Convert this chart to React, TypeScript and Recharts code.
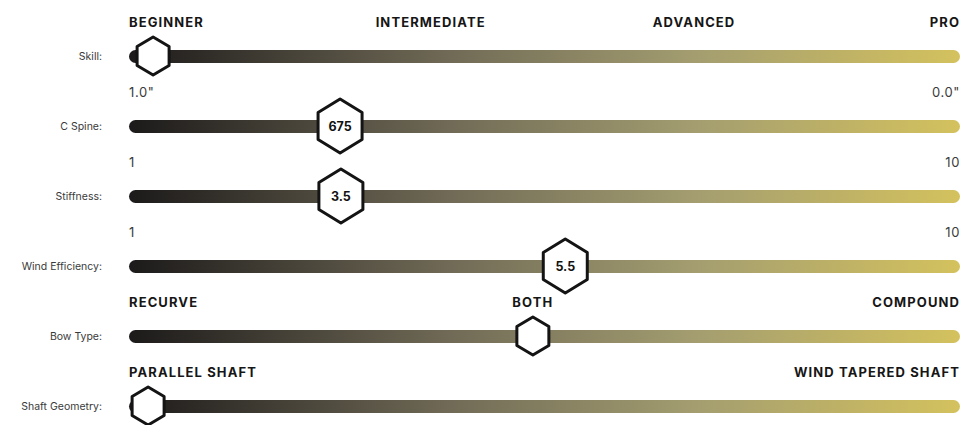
import { Bar, ComposedChart, ReferenceDot, XAxis, YAxis } from "recharts";

const rows = ["Skill:", "C Spine:", "Stiffness:", "Wind Efficiency:", "Bow Type:", "Shaft Geometry:"];
// where the marker sits on each track, in percent of the track length
const markerPos = [2.9, 25.4, 25.5, 52.5, 48.6, 2.3];
const markerText = ["", "675", "3.5", "5.5", "", ""];
const scaleText = [
  ["BEGINNER", "INTERMEDIATE", "ADVANCED", "PRO"],
  ["1.0\"", "0.0\""],
  ["1", "10"],
  ["1", "10"],
  ["RECURVE", "BOTH", "COMPOUND"],
  ["PARALLEL SHAFT", "WIND TAPERED SHAFT"],
];
const scaleAt = [
  [0, 36.3, 68, 100],
  [0, 100],
  [0, 100],
  [0, 100],
  [0, 48.6, 100],
  [0, 100],
];

const data = rows.map((name) => ({ name, track: 100 }));

function Hexagon(props: any) {
  const { cx, cy, label } = props;
  const big = label !== "";
  const w = big ? 22 : 16;
  const h = big ? 27 : 19;
  const d = `M${cx},${cy - h} L${cx + w},${cy - h / 2} L${cx + w},${cy + h / 2} L${cx},${cy + h} L${cx - w},${cy + h / 2} L${cx - w},${cy - h / 2} Z`;
  return (
    <g>
      <path d={d} fill="#fff" stroke="#141414" strokeWidth={3} strokeLinejoin="round" />
      {big && (
        <text x={cx} y={cy} dy={4.5} textAnchor="middle" fontSize={12.5} fontWeight={700} fill="#111">
          {label}
        </text>
      )}
    </g>
  );
}

function ScaleLabel(props: any) {
  const { cx, cy, text, at } = props;
  const bold = /[A-Z]/.test(text);
  const anchor = at === 0 ? "start" : at === 100 ? "end" : "middle";
  return (
    <text
      x={cx}
      y={cy}
      dy={-29}
      textAnchor={anchor}
      fontSize={13}
      letterSpacing={bold ? 1.1 : 0.6}
      fontWeight={bold ? 700 : 400}
      fill={bold ? "#161616" : "#3a3a3a"}
    >
      {text}
    </text>
  );
}

export default function App() {
  return (
    <div style={{ width: 962, height: 425, overflow: "hidden", fontFamily: "Inter, 'Noto Sans', sans-serif" }}>
      <style>{"body{margin:0}"}</style>
      <ComposedChart
        layout="vertical"
        width={962}
        height={441}
        data={data}
        margin={{ top: 21, right: 2, bottom: 0, left: 0 }}
      >
        <defs>
          <linearGradient id="trackFill" x1="0" y1="0" x2="1" y2="0">
            <stop offset="0%" stopColor="#1c1a1a" />
            <stop offset="40%" stopColor="#736d58" />
            <stop offset="68%" stopColor="#a39d70" />
            <stop offset="100%" stopColor="#d4c25e" />
          </linearGradient>
        </defs>
        <XAxis type="number" domain={[0, 100]} hide />
        <YAxis
          type="category"
          dataKey="name"
          width={129}
          axisLine={false}
          tickLine={false}
          tickSize={0}
          tickMargin={27}
          tick={{ fontSize: 10.5, fill: "#3a3a3a" }}
        />
        <Bar dataKey="track" barSize={13} radius={6.5} fill="url(#trackFill)" isAnimationActive={false} />
        {rows.map((row, i) =>
          scaleText[i].map((text, j) => (
            <ReferenceDot
              key={`${row}-${text}`}
              x={scaleAt[i][j]}
              y={row}
              r={0}
              shape={(p: any) => <ScaleLabel {...p} text={text} at={scaleAt[i][j]} />}
            />
          ))
        )}
        {rows.map((row, i) => (
          <ReferenceDot
            key={`hex-${row}`}
            x={markerPos[i]}
            y={row}
            r={0}
            shape={(p: any) => <Hexagon {...p} label={markerText[i]} />}
          />
        ))}
      </ComposedChart>
    </div>
  );
}
